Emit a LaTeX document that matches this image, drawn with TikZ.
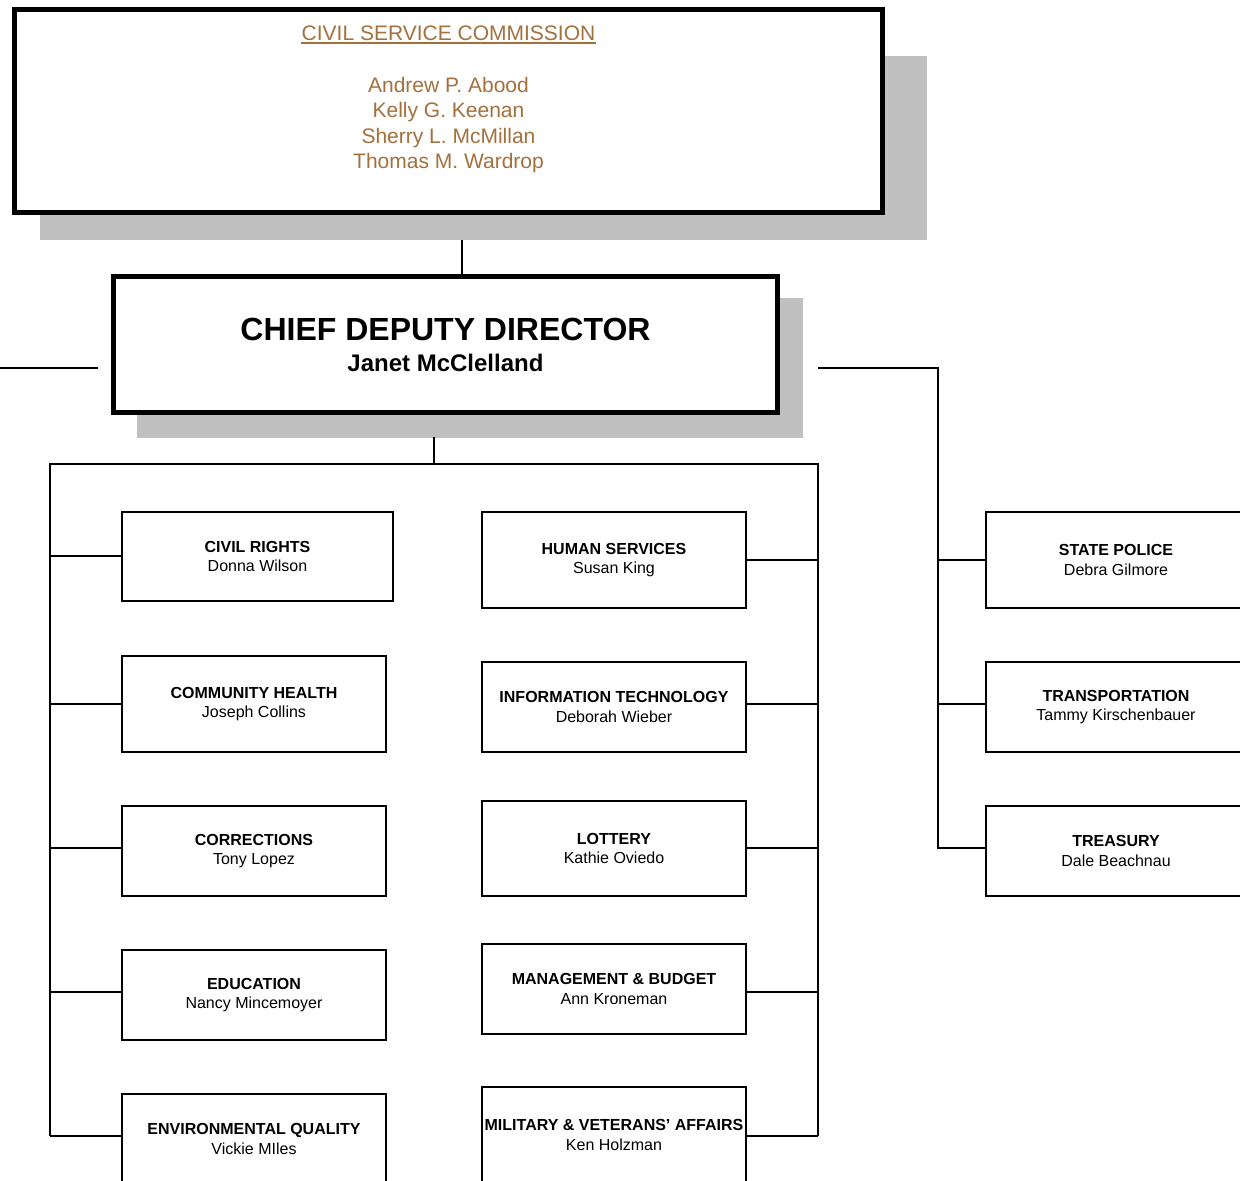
\documentclass[tikz,border=0pt]{standalone}
\usepackage{fontspec}
\setmainfont{Liberation Sans}
\definecolor{commbrown}{RGB}{164,112,60}
\definecolor{shadowgray}{RGB}{192,192,192}
\begin{document}
\begin{tikzpicture}[x=1pt,y=-1pt,
  thickbox/.style={draw=black, line width=5pt, fill=white, inner sep=0pt},
  unit/.style={draw=black, line width=1.8pt, fill=white, align=center, inner sep=0pt, font=\fontsize{16}{19.5}\selectfont},
  conn/.style={draw=black, line width=1.8pt},
  commtext/.style={text=commbrown, font=\fontsize{21}{25.6}\selectfont, inner sep=0pt, anchor=base},
  chieftext/.style={inner sep=0pt, anchor=base, font=\bfseries}
]
\useasboundingbox (0,0) rectangle (1240,1181);
\clip (0,0) rectangle (1240,1181);

% shadows
\fill[shadowgray] (40,56) rectangle (927,240);
\fill[shadowgray] (137,298) rectangle (803,438);

% Civil Service Commission
\node[thickbox, minimum width=868pt, minimum height=203pt] (csc) at (448.5,111) {};
\node[commtext] (title) at (448.5,40) {CIVIL SERVICE COMMISSION};
\draw[commbrown, line width=1.5pt] ([yshift=-3pt]title.base west) -- ([yshift=-3pt]title.base east);
\node[commtext] (m1) at (448.5,92) {Andrew P. Abood};
\node[commtext] (m2) at (448.5,117.6) {Kelly G. Keenan};
\node[commtext] (m3) at (448.5,143.2) {Sherry L. McMillan};
\node[commtext] (m4) at (448.5,168.8) {Thomas M. Wardrop};

% Chief Deputy Director
\node[thickbox, minimum width=664pt, minimum height=136pt] (cdd) at (445.5,344.5) {};
\node[chieftext, font=\bfseries\fontsize{32}{36}\selectfont] (cddt) at (445.5,340) {CHIEF DEPUTY DIRECTOR};
\node[chieftext, font=\bfseries\fontsize{24}{28}\selectfont] (cddn) at (445.5,371) {Janet McClelland};

% left column
\node[unit, minimum width=271pt, minimum height=89pt] (cr) at (257.5,556.5) {\textbf{CIVIL RIGHTS}\\Donna Wilson};
\node[unit, minimum width=264pt, minimum height=96pt] (ch) at (254,704) {\textbf{COMMUNITY HEALTH}\\Joseph Collins};
\node[unit, minimum width=264pt, minimum height=90pt] (co) at (254,851) {\textbf{CORRECTIONS}\\Tony Lopez};
\node[unit, minimum width=264pt, minimum height=90pt] (ed) at (254,995) {\textbf{EDUCATION}\\Nancy Mincemoyer};
\node[unit, minimum width=264pt, minimum height=90pt] (eq) at (254,1139) {\textbf{ENVIRONMENTAL QUALITY}\\Vickie MIles};

% middle column
\node[unit, minimum width=264pt, minimum height=96pt] (hs) at (614,560) {\textbf{HUMAN SERVICES}\\Susan King};
\node[unit, minimum width=264pt, minimum height=90pt] (it) at (614,707) {\textbf{INFORMATION TECHNOLOGY}\\Deborah Wieber};
\node[unit, minimum width=264pt, minimum height=95pt] (lo) at (614,848.5) {\textbf{LOTTERY}\\Kathie Oviedo};
\node[unit, minimum width=264pt, minimum height=90pt] (mb) at (614,989) {\textbf{MANAGEMENT \& BUDGET}\\Ann Kroneman};
\node[unit, minimum width=264pt, minimum height=96pt] (mv) at (614,1135) {\textbf{MILITARY \& VETERANS' AFFAIRS}\\Ken Holzman};

% right column
\node[unit, minimum width=260pt, minimum height=96pt] (sp) at (1116,560) {\textbf{STATE POLICE}\\Debra Gilmore};
\node[unit, minimum width=260pt, minimum height=90pt] (tr) at (1116,707) {\textbf{TRANSPORTATION}\\Tammy Kirschenbauer};
\node[unit, minimum width=260pt, minimum height=90pt] (ts) at (1116,851) {\textbf{TREASURY}\\Dale Beachnau};

% connectors
\coordinate (cx) at (462,240);
\draw[conn] (cx) -- (cdd.north -| cx);

\coordinate (ls1) at (0,368);
\coordinate (ls2) at (98,368);
\draw[conn] (ls1) -- (ls2);

\coordinate (rs) at (818,368);
\coordinate (rbus) at (938,368);
\coordinate (y560) at (0,560);
\coordinate (y704) at (0,704);
\coordinate (y848) at (0,848);
\coordinate (y556) at (0,556);
\coordinate (y992) at (0,992);
\coordinate (y1136) at (0,1136);
\draw[conn] (rs) -- (rbus) -- (rbus |- y848) -- (ts.west |- y848);
\draw[conn] (rbus |- y560) -- (sp.west |- y560);
\draw[conn] (rbus |- y704) -- (tr.west |- y704);

\coordinate (cs) at (434,437);
\coordinate (lb) at (50,464);
\coordinate (rb) at (818,464);
\draw[conn] (cs) -- (cs |- lb);
\draw[conn] (lb |- y1136) -- (lb) -- (rb) -- (rb |- y1136);

\draw[conn] (lb |- y556) -- (cr.west |- y556);
\draw[conn] (lb |- y704) -- (ch.west |- y704);
\draw[conn] (lb |- y848) -- (co.west |- y848);
\draw[conn] (lb |- y992) -- (ed.west |- y992);
\draw[conn] (lb |- y1136) -- (eq.west |- y1136);

\draw[conn] (rb |- y560) -- (hs.east |- y560);
\draw[conn] (rb |- y704) -- (it.east |- y704);
\draw[conn] (rb |- y848) -- (lo.east |- y848);
\draw[conn] (rb |- y992) -- (mb.east |- y992);
\draw[conn] (rb |- y1136) -- (mv.east |- y1136);
\end{tikzpicture}
\end{document}
